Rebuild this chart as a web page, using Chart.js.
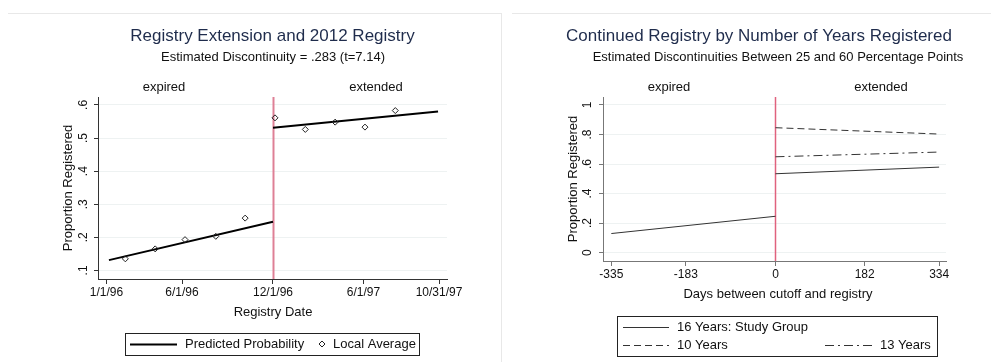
<!DOCTYPE html>
<html><head><meta charset="utf-8">
<script src="https://cdn.jsdelivr.net/npm/chart.js@4/dist/chart.umd.min.js"></script>
<style>
html,body{margin:0;padding:0;background:#fff;width:991px;height:362px;overflow:hidden;}
#wrapL{position:absolute;left:0;top:0;width:495px;height:362px;}
#wrapR{position:absolute;left:495px;top:0;width:496px;height:362px;}
.sep{position:absolute;background:#e8e8e8;}
</style></head><body>
<div class="sep" style="left:8px;top:13px;width:493px;height:1px"></div>
<div class="sep" style="left:512px;top:13px;width:479px;height:1px"></div>
<div class="sep" style="left:501px;top:13px;width:1px;height:349px"></div>
<div id="wrapL"><canvas id="cL" width="495" height="362"></canvas></div>
<div id="wrapR"><canvas id="cR" width="496" height="362"></canvas></div>
<script>
// ---------- data ----------
const xTickValues = [-335, -183, 0, 182, 334];
const leftXTickLabels = ['1/1/96', '6/1/96', '12/1/96', '6/1/97', '10/31/97'];
const rightXTickLabels = ['-335', '-183', '0', '182', '334'];
const leftYTicks = [0.1, 0.2, 0.3, 0.4, 0.5, 0.6];
const leftYTickLabels = ['.1', '.2', '.3', '.4', '.5', '.6'];
const rightYTicks = [0, 0.2, 0.4, 0.6, 0.8, 1];
const rightYTickLabels = ['0', '.2', '.4', '.6', '.8', '1'];
const cutoffDay = 0;

// left panel: predicted probability (two segments) and local averages
const predPreDays = [-330, 0];
const predPreVals = [0.131, 0.247];
const predPostDays = [0, 332];
const predPostVals = [0.531, 0.580];
const avgDays = [-297, -237, -177, -115, -56, 4, 65, 125, 185, 246];
const avgVals = [0.135, 0.165, 0.193, 0.203, 0.258, 0.561, 0.526, 0.548, 0.533, 0.583];

// right panel: fitted lines by years registered
const y16PreDays = [-335, 0];
const y16PreVals = [0.129, 0.246];
const y16PostDays = [0, 334];
const y16PostVals = [0.534, 0.579];
const y10Days = [0, 334];
const y10Vals = [0.846, 0.803];
const y13Days = [0, 334];
const y13Vals = [0.649, 0.681];

// ---------- helpers ----------
const FONT = '"Liberation Sans", Arial, sans-serif';
function pts(xs, ys) { return xs.map((x, i) => ({x: x, y: ys[i]})); }
function segs(a, b) { return a.concat([{x: a[a.length - 1].x, y: null}], b); }

function textPlugin(spec) {
  return {
    id: 'stataText',
    beforeDatasetsDraw(chart) {
      const ctx = chart.ctx, ca = chart.chartArea, xs = chart.scales.x;
      const px = Math.round(xs.getPixelForValue(cutoffDay)) + 0.5;
      ctx.save();
      ctx.strokeStyle = spec.cutColor; ctx.lineWidth = spec.cutWidth;
      ctx.beginPath(); ctx.moveTo(px, ca.top); ctx.lineTo(px, ca.bottom); ctx.stroke();
      ctx.restore();
    },
    afterDraw(chart) {
      const ctx = chart.ctx, ys = chart.scales.y, xs = chart.scales.x, ca = chart.chartArea;
      ctx.save();
      ctx.textBaseline = 'middle'; ctx.textAlign = 'center';
      ctx.fillStyle = '#1f2c4c'; ctx.font = '17px ' + FONT;
      ctx.fillText(spec.title, spec.titleX, 36);
      ctx.fillStyle = '#111'; ctx.font = '13px ' + FONT;
      ctx.fillText(spec.subtitle, spec.subX, 57);
      ctx.font = '13px ' + FONT;
      ctx.fillText('expired', spec.expX, 87);
      ctx.fillText('extended', spec.extX, 87);
      ctx.fillText(spec.xTitle, spec.xTitleX, spec.xTitleY);
      // x tick labels
      ctx.font = '12px ' + FONT;
      xTickValues.forEach((v, i) => {
        ctx.fillText(spec.xTickLabels[i], xs.getPixelForValue(v), ca.bottom + 14);
      });
      // rotated y tick labels
      spec.yTicks.forEach((v, i) => {
        const y = ys.getPixelForValue(v);
        ctx.save(); ctx.translate(spec.yLabX, y); ctx.rotate(-Math.PI / 2);
        ctx.fillText(spec.yTickLabels[i], 0, 0); ctx.restore();
      });
      ctx.font = '13px ' + FONT;
      ctx.save(); ctx.translate(spec.yTitleX, (ca.top + ca.bottom) / 2); ctx.rotate(-Math.PI / 2);
      ctx.fillText('Proportion Registered', 0, 0); ctx.restore();
      // legend
      const L = spec.legend;
      ctx.strokeStyle = '#222'; ctx.lineWidth = 1;
      ctx.strokeRect(L.x + 0.5, L.y + 0.5, L.w, L.h);
      ctx.textAlign = 'left'; ctx.fillStyle = '#111'; ctx.font = '13px ' + FONT;
      L.items.forEach(it => {
        const ds = chart.data.datasets[it.ds];
        if (it.marker) {
          ctx.save(); ctx.strokeStyle = ds.borderColor; ctx.lineWidth = 1;
          ctx.beginPath();
          ctx.moveTo(it.sx, it.y - 3); ctx.lineTo(it.sx + 3, it.y); ctx.lineTo(it.sx, it.y + 3); ctx.lineTo(it.sx - 3, it.y); ctx.closePath();
          ctx.stroke(); ctx.restore();
        } else {
          ctx.save(); ctx.strokeStyle = ds.borderColor; ctx.lineWidth = ds.borderWidth;
          ctx.setLineDash(ds.borderDash || []);
          ctx.beginPath(); ctx.moveTo(it.sx, it.y + 0.5); ctx.lineTo(it.ex, it.y + 0.5); ctx.stroke(); ctx.restore();
        }
        ctx.fillText(ds.label, it.tx, it.y + 0.5);
      });
      ctx.restore();
    }
  };
}

function baseScales(xmin, xmax, ymin, ymax, yticks, axisColor) {
  return {
    x: {
      type: 'linear', min: xmin, max: xmax,
      afterBuildTicks: s => { s.ticks = xTickValues.map(v => ({value: v})); },
      afterFit: s => { s.height = 0; },
      ticks: { display: false },
      grid: { drawOnChartArea: false, drawTicks: true, tickLength: 5, tickColor: axisColor, tickWidth: 1 },
      border: { color: axisColor, width: 1 }
    },
    y: {
      type: 'linear', min: ymin, max: ymax,
      afterBuildTicks: s => { s.ticks = yticks.map(v => ({value: v})); },
      afterFit: s => { s.width = 0; },
      ticks: { display: false },
      grid: { color: '#eef2f2', lineWidth: 1, drawTicks: true, tickLength: 4, tickColor: axisColor },
      border: { color: axisColor, width: 1 }
    }
  };
}

// ---------- left chart ----------
new Chart(document.getElementById('cL'), {
  type: 'scatter',
  data: { datasets: [
    { label: 'Predicted Probability', data: segs(pts(predPreDays, predPreVals), pts(predPostDays, predPostVals)),
      showLine: true, spanGaps: false, borderColor: '#000', borderWidth: 2, pointRadius: 0, fill: false, order: 2 },
    { label: 'Local Average', data: pts(avgDays, avgVals), showLine: false,
      pointStyle: 'rectRot', pointRadius: 3, borderColor: '#222', backgroundColor: 'rgba(255,255,255,0)', borderWidth: 1, order: 1 }
  ]},
  options: {
    responsive: false, animation: false, devicePixelRatio: 1,
    layout: { padding: { left: 98, right: 48, top: 97, bottom: 83 } },
    plugins: { legend: { display: false }, tooltip: { enabled: false } },
    scales: baseScales(-352, 350, 0.074, 0.624, leftYTicks, '#333')
  },
  plugins: [textPlugin({
    title: 'Registry Extension and 2012 Registry', titleX: 272.5,
    subtitle: 'Estimated Discontinuity = .283 (t=7.14)', subX: 273,
    expX: 164, extX: 376, xTitle: 'Registry Date', xTitleX: 273, xTitleY: 312,
    xTickLabels: leftXTickLabels,
    yTicks: leftYTicks, yTickLabels: leftYTickLabels, yLabX: 84, yTitleX: 68,
    cutColor: '#de8096', cutWidth: 2,
    legend: { x: 125, y: 333, w: 294, h: 22, items: [
      { ds: 0, sx: 130, ex: 177, tx: 185, y: 344 },
      { ds: 1, marker: true, sx: 322, tx: 333, y: 344 }
    ]}
  })]
});

// ---------- right chart ----------
new Chart(document.getElementById('cR'), {
  type: 'scatter',
  data: { datasets: [
    { label: '16 Years: Study Group', data: segs(pts(y16PreDays, y16PreVals), pts(y16PostDays, y16PostVals)),
      showLine: true, spanGaps: false, borderColor: '#333', borderWidth: 1, pointRadius: 0 },
    { label: '10 Years', data: pts(y10Days, y10Vals), showLine: true, borderColor: '#333', borderWidth: 1,
      borderDash: [7, 4], pointRadius: 0 },
    { label: '13 Years', data: pts(y13Days, y13Vals), showLine: true, borderColor: '#333', borderWidth: 1,
      borderDash: [9, 4, 2, 4], pointRadius: 0 }
  ]},
  options: {
    responsive: false, animation: false, devicePixelRatio: 1,
    layout: { padding: { left: 108, right: 45, top: 97, bottom: 101 } },
    plugins: { legend: { display: false }, tooltip: { enabled: false } },
    scales: baseScales(-352, 348, -0.057, 1.054, rightYTicks, '#777')
  },
  plugins: [textPlugin({
    title: 'Continued Registry by Number of Years Registered', titleX: 264,
    subtitle: 'Estimated Discontinuities Between 25 and 60 Percentage Points', subX: 283,
    expX: 174, extX: 386, xTitle: 'Days between cutoff and registry', xTitleX: 283, xTitleY: 294,
    xTickLabels: rightXTickLabels,
    yTicks: rightYTicks, yTickLabels: rightYTickLabels, yLabX: 93, yTitleX: 78,
    cutColor: '#e0627e', cutWidth: 1.5,
    legend: { x: 122, y: 316, w: 320, h: 40, items: [
      { ds: 0, sx: 128, ex: 174, tx: 182, y: 327 },
      { ds: 1, sx: 128, ex: 174, tx: 182, y: 345 },
      { ds: 2, sx: 330, ex: 377, tx: 385, y: 345 }
    ]}
  })]
});
</script>
</body></html>
